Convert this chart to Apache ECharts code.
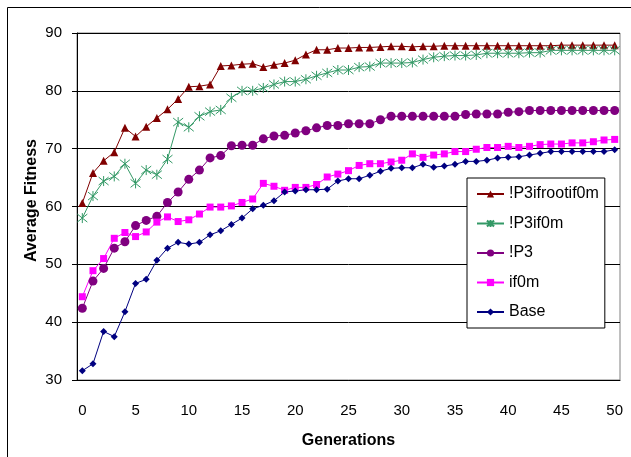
<!DOCTYPE html>
<html>
<head>
<meta charset="utf-8">
<script src="https://cdn.jsdelivr.net/npm/echarts@6/dist/echarts.min.js"></script>
<style>
    html, body { margin: 0; padding: 0; background: #fff; }
    #chart { width: 631px; height: 457px; }
</style>
</head>
<body>
<div id="chart"></div>
<script>
// Generations 0..50
const generations = Array.from({length: 51}, (_, i) => String(i));

const p3ifrootif0m = [60.6, 65.8, 67.9, 69.4, 73.6, 72.1, 73.8, 75.3, 76.8, 78.6,
    80.7, 80.8, 81.1, 84.3, 84.4, 84.6, 84.7, 84.1, 84.5, 84.8,
    85.3, 86.3, 87.1, 87.1, 87.4, 87.4, 87.5, 87.5, 87.6, 87.7,
    87.7, 87.6, 87.7, 87.7, 87.8, 87.8, 87.8, 87.8, 87.8, 87.8,
    87.8, 87.8, 87.8, 87.8, 87.8, 87.9, 87.9, 87.9, 87.9, 87.9, 87.9];

const p3if0m = [58.0, 61.8, 64.4, 65.2, 67.4, 64.0, 66.3, 65.5, 68.2, 74.6,
    73.7, 75.6, 76.4, 76.7, 78.8, 80.0, 80.0, 80.5, 81.1, 81.6,
    81.6, 82.0, 82.6, 83.1, 83.6, 83.6, 84.1, 84.2, 84.8, 84.8,
    84.8, 84.9, 85.4, 85.8, 86.0, 86.1, 86.1, 86.2, 86.5, 86.5,
    86.5, 86.5, 86.6, 86.6, 87.0, 87.0, 87.0, 87.0, 87.0, 87.0, 87.0];

const p3 = [42.4, 47.1, 49.3, 52.8, 53.9, 56.7, 57.6, 58.3, 60.7, 62.5,
    64.7, 66.3, 68.4, 68.8, 70.5, 70.6, 70.6, 71.7, 72.2, 72.3,
    72.7, 73.1, 73.6, 74.0, 74.0, 74.3, 74.3, 74.3, 75.0, 75.6,
    75.6, 75.6, 75.6, 75.6, 75.6, 75.6, 75.9, 76.0, 76.0, 76.0,
    76.3, 76.4, 76.6, 76.6, 76.6, 76.6, 76.6, 76.6, 76.6, 76.6, 76.6];

const if0m = [44.4, 48.9, 51.0, 54.5, 55.5, 54.8, 55.6, 57.3, 58.2, 57.4,
    57.7, 58.7, 59.9, 59.9, 60.1, 60.7, 61.3, 64.0, 63.5, 62.8,
    63.3, 63.3, 63.8, 65.1, 65.6, 66.2, 67.1, 67.4, 67.4, 67.7,
    68.0, 69.1, 68.5, 68.9, 69.1, 69.5, 69.5, 69.9, 70.2, 70.2,
    70.4, 70.2, 70.4, 70.7, 70.8, 70.8, 71.0, 71.0, 71.2, 71.5, 71.6];

const base = [31.6, 32.8, 38.4, 37.5, 41.8, 46.7, 47.4, 50.7, 52.8, 53.8,
    53.5, 53.8, 55.1, 55.8, 56.9, 58.0, 59.6, 60.2, 61.0, 62.5,
    62.7, 62.9, 62.9, 63.0, 64.4, 64.8, 64.8, 65.4, 66.1, 66.6,
    66.7, 66.7, 67.3, 66.8, 67.0, 67.3, 67.8, 67.8, 68.0, 68.4,
    68.5, 68.6, 68.9, 69.2, 69.5, 69.5, 69.5, 69.5, 69.5, 69.5, 69.8];

const FONT = "'Liberation Sans', Arial, sans-serif";
const starPath = 'path://M5,0L5,10M1,1L9,9M1,9L9,1';

const makeSeries = (name, data, color, symbol, size, extra) => Object.assign({
    name: name,
    type: 'line',
    data: data,
    symbol: symbol,
    symbolSize: size,
    showAllSymbol: true,
    color: color,
    lineStyle: {color: color, width: 1},
    itemStyle: {color: color},
    emphasis: {disabled: true}
}, extra || {});

const chart = echarts.init(document.getElementById('chart'));

const option = {
    animation: false,
    backgroundColor: '#fff',
    textStyle: {fontFamily: FONT},
    graphic: [{
        type: 'rect',
        shape: {x: 7.5, y: 7.5, width: 700, height: 600},
        style: {fill: 'none', stroke: '#000', lineWidth: 1},
        z: -1
    }],
    grid: {
        left: 77, top: 33, right: 11, bottom: 77,
        show: true,
        borderColor: '#808080',
        borderWidth: 1
    },
    legend: {
        orient: 'vertical',
        left: 467,
        top: 178,
        padding: [7, 6, 7, 9],
        itemGap: 11.5,
        itemWidth: 27,
        itemHeight: 9,
        backgroundColor: '#fff',
        borderColor: '#000',
        borderWidth: 1,
        textStyle: {fontFamily: FONT, fontSize: 16, color: '#000', lineHeight: 18},
        data: ['!P3ifrootif0m', '!P3if0m', '!P3', 'if0m', 'Base']
    },
    xAxis: {
        type: 'category',
        data: generations,
        boundaryGap: true,
        name: 'Generations',
        nameLocation: 'middle',
        nameGap: 53,
        nameTextStyle: {fontFamily: FONT, fontSize: 16, fontWeight: 'bold', color: '#000'},
        axisLine: {lineStyle: {color: '#000', width: 1}},
        axisTick: {interval: 4, length: 5, lineStyle: {color: '#000'}},
        axisLabel: {interval: 4, margin: 23, fontSize: 15, color: '#000', fontFamily: FONT},
        splitLine: {show: false}
    },
    yAxis: {
        type: 'value',
        min: 30,
        max: 90,
        interval: 10,
        name: 'Average Fitness',
        nameLocation: 'middle',
        nameGap: 37,
        nameMoveOverlap: false,
        nameTextStyle: {fontFamily: FONT, fontSize: 16, fontWeight: 'bold', color: '#000', padding: [0, 0, 0, 12]},
        axisLine: {show: true, lineStyle: {color: '#000', width: 1}},
        axisTick: {show: true, length: 5, lineStyle: {color: '#000'}},
        axisLabel: {margin: 15, fontSize: 15, color: '#000', fontFamily: FONT},
        splitLine: {show: true, lineStyle: {color: '#000', width: 1}}
    },
    series: [
        makeSeries('!P3ifrootif0m', p3ifrootif0m, '#800000', 'triangle', 8),
        makeSeries('!P3if0m', p3if0m, '#339966', starPath, 10, {
            itemStyle: {color: '#339966', borderColor: '#339966', borderWidth: 1}
        }),
        makeSeries('!P3', p3, '#800080', 'circle', 9),
        makeSeries('if0m', if0m, '#ff00ff', 'rect', 7),
        makeSeries('Base', base, '#000080', 'diamond', 7)
    ]
};
chart.setOption(option);
</script>
</body>
</html>
